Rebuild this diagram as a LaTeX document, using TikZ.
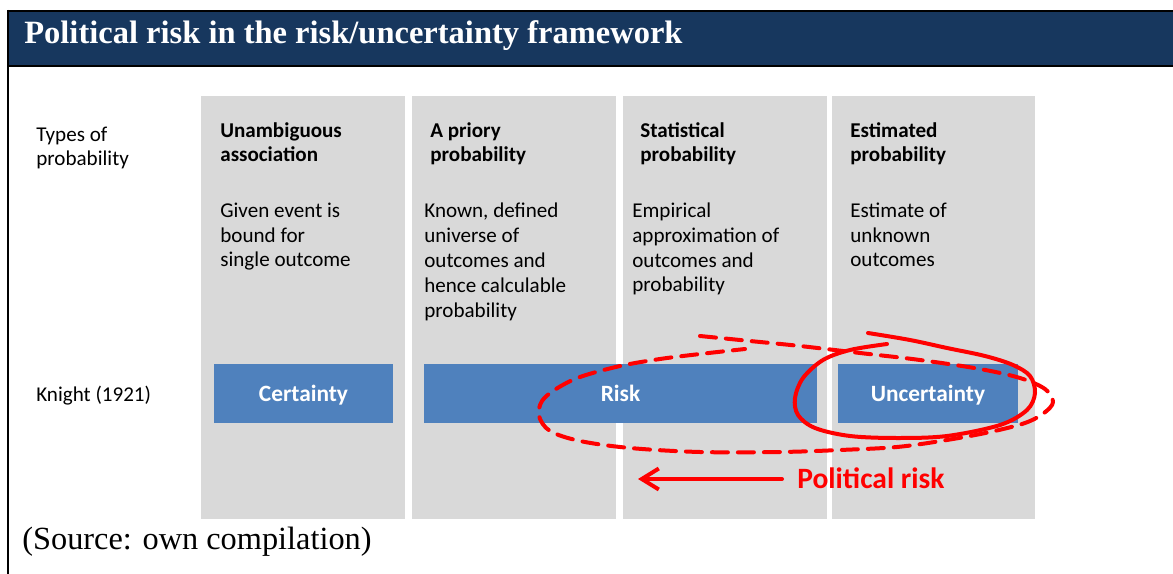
\documentclass[tikz,border=0pt]{standalone}
\usepackage{fontspec}
\setmainfont{Carlito}
\newfontfamily\timesfont{Liberation Serif}
\usepackage{tikz}
\usetikzlibrary{arrows.meta}

\definecolor{titleblue}{HTML}{17375E}
\definecolor{colgray}{HTML}{D9D9D9}
\definecolor{knightblue}{HTML}{4F81BD}
\definecolor{penred}{HTML}{FF0000}

\begin{document}
\begin{tikzpicture}[x=0.02cm, y=-0.02cm,
        txt/.style={anchor=base west, inner sep=0pt, align=left, font=\fontsize{12}{14.17}\selectfont},
        head/.style={txt, font=\fontsize{12}{14.17}\selectfont\bfseries},
        knight/.style={fill=knightblue, text=white, inner sep=0pt, minimum height=1.18cm, text height=1em, text depth=0.08em, font=\fontsize{13.3}{16}\selectfont\bfseries},
        pen/.style={penred, line width=0.08cm, line cap=round, line join=round},
        penloop/.style={pen, smooth, tension=0.55}]
        \useasboundingbox (0,0) rectangle (1173,574);

        % title bar and frame
        \fill[titleblue] (8,11) rectangle (1173,65);
        \draw[line width=0.04cm] (8,11) -- (1173,11);
        \draw[line width=0.04cm] (8,66) -- (1173,66);
        \draw[line width=0.04cm] (8,10) -- (8,574);
        \node[anchor=base west, inner sep=0pt, text=white, font=\timesfont\bfseries\fontsize{18.5}{22}\selectfont] (title) at (24,44) {Political risk in the risk/uncertainty framework};

        % the columns
        \fill[colgray] (201,96) rectangle (405,519);
        \fill[colgray] (412,96) rectangle (616,519);
        \fill[colgray] (623,96) rectangle (827,519);
        \fill[colgray] (832,96) rectangle (1035,519);

        % the texts (base = last line)
        \node[txt] (types) at (36,166) {Types of\\probability};
        \node[txt] (knightrow) at (36,401) {Knight (1921)};

        \node[head] (h1) at (220,162) {Unambiguous\\association};
        \node[head] (h2) at (430,162) {A priory\\probability};
        \node[head] (h3) at (640,162) {Statistical\\probability};
        \node[head] (h4) at (850,162) {Estimated\\probability};

        \node[txt] (d1) at (220,267) {Given event is\\bound for\\single outcome};
        \node[txt] (d2) at (424,317) {Known, defined\\universe of\\outcomes and\\hence calculable\\probability};
        \node[txt] (d3) at (632,292) {Empirical\\approximation of\\outcomes and\\probability};
        \node[txt] (d4) at (850,267) {Estimate of\\unknown\\outcomes};

        % knight's categories
        \node[knight, minimum width=3.58cm] (certainty) at (303.5,393.5) {Certainty};
        \node[knight, minimum width=7.86cm] (risk) at (620.5,393.5) {Risk};
        \node[knight, minimum width=3.6cm] (uncertainty) at (928,393.5) {Uncertainty};

        % the hand drawn marks
        \draw[penloop, dash pattern=on 0.32cm off 0.2cm] plot coordinates {(700,336) (750,341) (800,346) (860,353) (920,360) (980,369) (1020,378) (1045,389) (1053,402) (1044,413) (1025,423) (990,432) (947,440) (897,447) (840,450) (780,452) (700,452) (630,448) (580,441) (550,431) (539,416) (542,401) (556,389) (580,377) (620,366) (660,359) (700,354) (745,349)};
        \draw[penloop] plot coordinates {(868,333) (910,340) (947,348) (985,356) (1013,365) (1030,376) (1035,393) (1027,410) (1000,425) (947,436) (897,438) (850,436) (815,428) (798,415) (795,398) (803,378) (823,360) (850,350) (887,344)};

        \node[anchor=base west, inner sep=0pt, text=penred, font=\fontsize{16.8}{20}\selectfont\bfseries] (polrisk) at (797,488) {Political risk};
        \coordinate (arrowtip) at (638,479);
        \draw[pen, -{Straight Barb[length=0.34cm, width=0.42cm]}] ([xshift=-0.3cm]polrisk.west |- arrowtip) -- (arrowtip);

        \node[anchor=base west, inner sep=0pt, font=\timesfont\fontsize{18.4}{22}\selectfont] (source) at (22,549) {(Source: own compilation)};
\end{tikzpicture}
\end{document}
